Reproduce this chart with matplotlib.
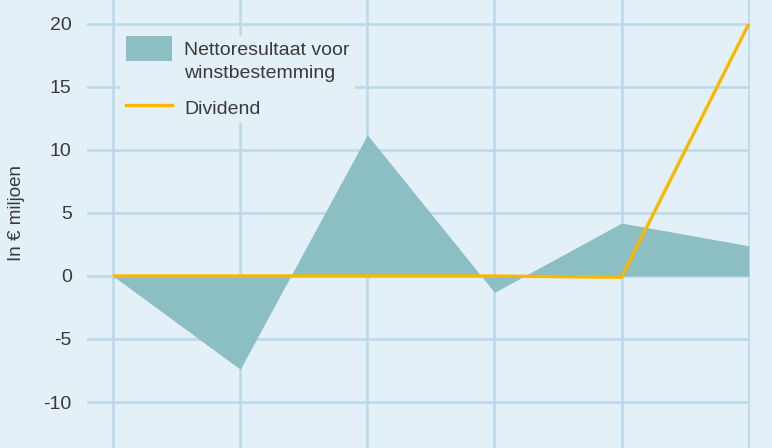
import matplotlib.pyplot as plt
from matplotlib.patches import Patch, Rectangle
from matplotlib.lines import Line2D
from matplotlib.legend_handler import HandlerPatch

plt.rcParams['font.family'] = ['Liberation Sans', 'DejaVu Sans']
plt.rcParams['axes.unicode_minus'] = False

# zes jaren, geen labels op de x-as
jaren = [0, 1, 2, 3, 4, 5]
nettoresultaat = [0.0, -7.4, 11.2, -1.3, 4.2, 2.4]
dividend = [0.0, 0.0, 0.0, 0.0, -0.1, 20.0]
y_ticks = [-10, -5, 0, 5, 10, 15, 20]

bg = '#e3f0f8'
grid = '#bcd9ea'
fill_kleur = '#8cbfc3'
lijn_kleur = '#f9b800'
tekst = '#3a3a3a'

fig = plt.figure(figsize=(7.72, 4.48), dpi=100)
fig.patch.set_facecolor(bg)
ax = fig.add_axes([87 / 772, 0, (750 - 87) / 772, 1])
ax.set_facecolor(bg)

ax.fill_between(jaren, nettoresultaat, 0, color=fill_kleur, linewidth=0, zorder=2)
ax.plot(jaren, dividend, color=lijn_kleur, linewidth=2.4, zorder=3,
        solid_capstyle='butt')

ax.set_xlim(-0.205, 5.01)
ax.set_ylim(-13.65, 21.9)
ax.set_xticks(jaren)
ax.set_yticks(y_ticks)
ax.set_xticklabels([])
ax.grid(True, color=grid, linewidth=1.8, zorder=1)
ax.set_axisbelow(True)
for s in ax.spines.values():
    s.set_visible(False)
ax.tick_params(axis='both', length=0)
ax.tick_params(axis='y', labelsize=14, labelcolor=tekst, pad=11)

fig.text(17 / 772, 1 - 213 / 448, 'In € miljoen', rotation=90, ha='center',
         va='center', fontsize=13.5, color=tekst)


# vlak-symbool naast de eerste tekstregel i.p.v. gecentreerd op beide regels
def vlak_bovenaan(legend, orig_handle, xdescent, ydescent, width, height, fontsize):
    midden = height / 2 - ydescent + 9.8
    return Rectangle((-xdescent, midden - 9), width, 18)


handles = [Patch(facecolor=fill_kleur, edgecolor='none'),
           Line2D([0], [0], color=lijn_kleur, linewidth=2.4)]
leg = ax.legend(handles, ['Nettoresultaat voor\nwinstbestemming', 'Dividend'],
                loc='upper left', bbox_to_anchor=(0.035, 0.941),
                frameon=True, facecolor=bg, edgecolor='none', framealpha=1,
                fontsize=14, labelcolor=tekst, handlelength=2.4,
                handleheight=1.3, handletextpad=0.6, labelspacing=0.75,
                borderpad=0.3,
                handler_map={Patch: HandlerPatch(patch_func=vlak_bovenaan)})
leg.get_frame().set_boxstyle('square', pad=0)
for t in leg.get_texts():
    t.set_linespacing(1.45)

fig.savefig('out.png', dpi=100, facecolor=bg)
